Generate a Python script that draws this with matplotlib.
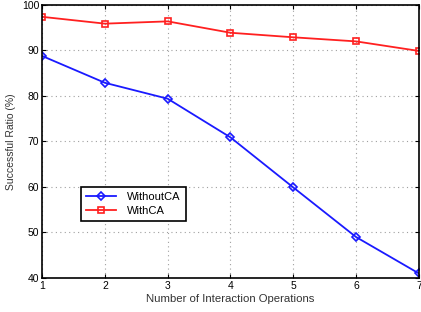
import matplotlib
matplotlib.use("Agg")
import matplotlib.pyplot as plt

plt.rcParams['font.family'] = ['Liberation Sans', 'DejaVu Sans']

x = [1, 2, 3, 4, 5, 6, 7]
without_ca = [88.8, 82.9, 79.4, 70.9, 59.9, 49.0, 41.0]
with_ca = [97.4, 95.9, 96.4, 93.9, 92.9, 92.0, 89.9]
xticks = [1, 2, 3, 4, 5, 6, 7]
yticks = [40, 50, 60, 70, 80, 90, 100]

fig = plt.figure(figsize=(4.21, 3.12), dpi=100)
ax = fig.add_axes([0.1, 0.109, 0.895, 0.875])

ax.plot(x, without_ca, color='#1a1aff', marker='D', markersize=4.5,
        markerfacecolor='none', markeredgewidth=1.2, linewidth=1.3, label='WithoutCA')
ax.plot(x, with_ca, color='#ff2020', marker='s', markersize=4.5,
        markerfacecolor='none', markeredgewidth=1.2, linewidth=1.3, label='WithCA')

ax.set_xlim(1, 7)
ax.set_ylim(40, 100)
ax.set_xticks(xticks)
ax.set_yticks(yticks)
ax.tick_params(direction='in', labelsize=7.5, length=3, width=0.8, top=True, right=True, pad=2)
ax.grid(True, linestyle=(0, (1, 3)), color='#a0a0a0', linewidth=0.8)
for s in ax.spines.values():
    s.set_linewidth(1.2)

ax.set_xlabel('Number of Interaction Operations', fontsize=8.2, color='#333333', labelpad=2)
ax.set_ylabel('Successful Ratio (%)', fontsize=7.5, color='#333333', labelpad=4)

leg = ax.legend(loc='upper left', bbox_to_anchor=(0.104, 0.332), fontsize=8,
                fancybox=False, edgecolor='black', framealpha=1,
                handlelength=2.7, borderpad=0.45, labelspacing=0.3, handletextpad=1.0,
                borderaxespad=0)
leg.get_frame().set_linewidth(1.2)

fig.savefig('out.png', dpi=100)
